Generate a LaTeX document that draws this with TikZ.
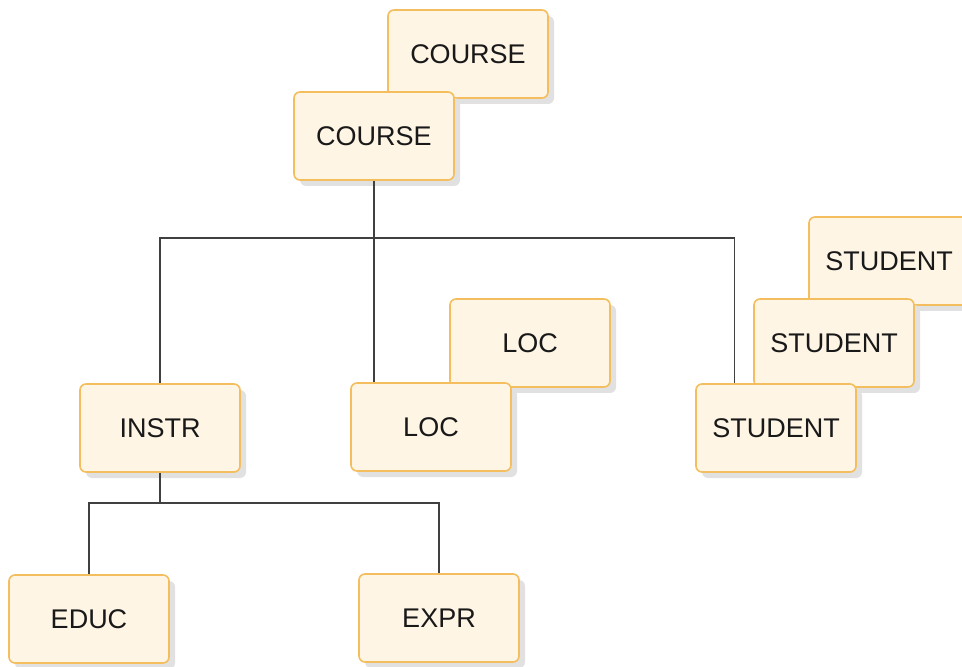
\documentclass[tikz,border=0pt]{standalone}
\usepackage{fontspec}
\setmainfont{Liberation Sans}
\usetikzlibrary{shadows,calc}
\definecolor{segfill}{HTML}{FEF5E4}
\definecolor{segdraw}{HTML}{F4BE5E}
\definecolor{segshadow}{HTML}{E1E1E1}
\tikzset{
  seg/.style={draw=segdraw, fill=segfill, line width=0.8pt, rounded corners=3pt,
    minimum width=80pt, minimum height=44pt, text=black!90,
    font=\fontsize{13.5}{15}\selectfont,
    drop shadow={shadow xshift=3pt, shadow yshift=-3pt, fill=segshadow, opacity=1}},
  link/.style={draw=black!75, line width=0.6pt}
}

\begin{document}
\begin{tikzpicture}[x=0.5pt, y=-0.5pt]
\useasboundingbox[fill=white] (0,0) rectangle (962,667);
% twin occurrences first, so the front ones cover them
\node[seg] (course2) at (468,54) {COURSE};
\node[seg] (course) at (374,136) {COURSE};
\node[seg] (loc2) at (530,343) {LOC};
\node[seg] (student3) at (889,261) {STUDENT};
\node[seg] (student2) at (834,343) {STUDENT};
\node[seg] (instr) at (160,428) {INSTR};
\node[seg] (loc) at (431,427) {LOC};
\node[seg] (student) at (776,428) {STUDENT};
\node[seg] (educ) at (89,619) {EDUC};
\node[seg] (expr) at (439,618) {EXPR};
% connectors
\coordinate (bus) at (374,238);
\coordinate (stap) at ($(student.north west)+(39,0)$);
\coordinate (fork) at (160,503);
\draw[link] (course.south) -- (course.south |- loc.north);
\draw[link] (instr.north) |- (stap |- bus) -- (stap);
\draw[link] (instr.south) -- (fork);
\draw[link] (educ.north) |- (fork) -| (expr.north);
\end{tikzpicture}
\end{document}
